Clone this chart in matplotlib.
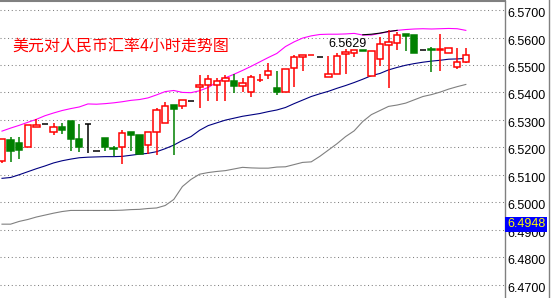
import matplotlib.pyplot as plt
import numpy as np
from matplotlib.transforms import blended_transform_factory, ScaledTranslation
from matplotlib.lines import Line2D

# 4-hour candles, USD/CNY
opens = [6.5150, 6.5226, 6.5217, 6.5200, 6.5273, 6.5284, 6.5257, 6.5273, 6.5296, 6.5229,
         6.5284, 6.5186, 6.5233, 6.5197, 6.5200, 6.5256, 6.5245, 6.5207, 6.5254, 6.5287,
         6.5353, 6.5349, 6.5368, 6.5419, 6.5427, 6.5427, 6.5442, 6.5441, 6.5423, 6.5402,
         6.5444, 6.5463, 6.5415, 6.5401, 6.5488, 6.5530, 6.5535, 6.5528, 6.5457, 6.5466,
         6.5540, 6.5542, 6.5553, 6.5461, 6.5520, 6.5573, 6.5581, 6.5613, 6.5609, 6.5553,
         6.5558, 6.5556, 6.5542, 6.5493, 6.5512]
highs = [6.5232, 6.5236, 6.5237, 6.5281, 6.5302, 6.5284, 6.5289, 6.5289, 6.5296, 6.5284,
         6.5284, 6.5186, 6.5233, 6.5206, 6.5263, 6.5256, 6.5245, 6.5254, 6.5344, 6.5365,
         6.5353, 6.5371, 6.5368, 6.5463, 6.5463, 6.5453, 6.5463, 6.5467, 6.5451, 6.5463,
         6.5466, 6.5506, 6.5479, 6.5484, 6.5536, 6.5536, 6.5536, 6.5528, 6.5532, 6.5542,
         6.5557, 6.5554, 6.5553, 6.5551, 6.5603, 6.5629, 6.5621, 6.5613, 6.5609, 6.5553,
         6.5566, 6.5613, 6.5560, 6.5560, 6.5560]
lows = [6.5143, 6.5145, 6.5157, 6.5200, 6.5273, 6.5284, 6.5245, 6.5247, 6.5187, 6.5184,
        6.5178, 6.5186, 6.5187, 6.5168, 6.5138, 6.5187, 6.5175, 6.5175, 6.5172, 6.5287,
        6.5172, 6.5340, 6.5368, 6.5345, 6.5368, 6.5368, 6.5368, 6.5399, 6.5402, 6.5384,
        6.5439, 6.5448, 6.5390, 6.5401, 6.5421, 6.5479, 6.5535, 6.5528, 6.5457, 6.5466,
        6.5466, 6.5528, 6.5552, 6.5461, 6.5496, 6.5416, 6.5554, 6.5552, 6.5542, 6.5553,
        6.5475, 6.5479, 6.5542, 6.5486, 6.5507]
closes = [6.5230, 6.5187, 6.5190, 6.5281, 6.5281, 6.5284, 6.5273, 6.5263, 6.5229, 6.5202,
          6.5284, 6.5186, 6.5200, 6.5195, 6.5251, 6.5246, 6.5175, 6.5254, 6.5336, 6.5350,
          6.5340, 6.5371, 6.5368, 6.5427, 6.5448, 6.5441, 6.5451, 6.5424, 6.5433, 6.5455,
          6.5446, 6.5478, 6.5402, 6.5484, 6.5528, 6.5536, 6.5536, 6.5528, 6.5466, 6.5532,
          6.5547, 6.5554, 6.5552, 6.5551, 6.5576, 6.5585, 6.5609, 6.5606, 6.5542, 6.5553,
          6.5556, 6.5558, 6.5560, 6.5511, 6.5536]

# Bollinger bands
band_upper = [6.5259, 6.5270, 6.5280, 6.5291, 6.5302, 6.5315, 6.5325, 6.5334, 6.5341, 6.5347,
              6.5358, 6.5357, 6.5359, 6.5362, 6.5366, 6.5371, 6.5374, 6.5380, 6.5391, 6.5403,
              6.5407, 6.5400, 6.5399, 6.5406, 6.5418, 6.5437, 6.5453, 6.5466, 6.5480, 6.5495,
              6.5511, 6.5527, 6.5542, 6.5567, 6.5584, 6.5598, 6.5606, 6.5611, 6.5612, 6.5612,
              6.5613, 6.5615, 6.5609, 6.5609, 6.5615, 6.5621, 6.5626, 6.5629, 6.5631, 6.5632,
              6.5631, 6.5632, 6.5633, 6.5632, 6.5626]
band_mid = [6.5087, 6.5090, 6.5100, 6.5111, 6.5122, 6.5132, 6.5143, 6.5151, 6.5157, 6.5162,
            6.5164, 6.5165, 6.5166, 6.5166, 6.5167, 6.5171, 6.5175, 6.5178, 6.5184, 6.5195,
            6.5208, 6.5225, 6.5239, 6.5262, 6.5279, 6.5289, 6.5299, 6.5306, 6.5313, 6.5318,
            6.5323, 6.5330, 6.5336, 6.5345, 6.5359, 6.5372, 6.5385, 6.5395, 6.5404, 6.5415,
            6.5425, 6.5436, 6.5448, 6.5461, 6.5469, 6.5482, 6.5491, 6.5499, 6.5505, 6.5510,
            6.5514, 6.5517, 6.5521, 6.5522, 6.5524]
band_lower = [6.4920, 6.4920, 6.4930, 6.4937, 6.4946, 6.4953, 6.4960, 6.4966, 6.4970, 6.4970,
              6.4970, 6.4970, 6.4970, 6.4970, 6.4971, 6.4973, 6.4974, 6.4977, 6.4979, 6.4988,
              6.5010, 6.5057, 6.5083, 6.5102, 6.5108, 6.5112, 6.5115, 6.5121, 6.5127, 6.5125,
              6.5124, 6.5124, 6.5128, 6.5129, 6.5137, 6.5145, 6.5147, 6.5167, 6.5190, 6.5213,
              6.5239, 6.5260, 6.5294, 6.5319, 6.5334, 6.5349, 6.5354, 6.5361, 6.5373, 6.5385,
              6.5392, 6.5401, 6.5412, 6.5421, 6.5429]

# short black line near the top
seg_idx = [42, 43, 44, 45, 46]
seg_val = [6.5610, 6.5612, 6.5616, 6.5622, 6.5626]

price_levels = [6.47, 6.48, 6.49, 6.50, 6.51, 6.52, 6.53, 6.54, 6.55, 6.56, 6.57]
title = '美元对人民币汇率4小时走势图'
high_label = '6.5629'
cur_price = 6.4948

o = np.array(opens); h = np.array(highs); l = np.array(lows); c = np.array(closes)
x = np.arange(len(o))
up = c > o
dn = c < o
flat = c == o

fig = plt.figure(figsize=(5.53, 2.98), dpi=100)
ax = fig.add_axes([0, 0, 505 / 553, 297 / 298])

ax.grid(axis='y', color='#808080', linestyle=(0, (1, 2.6)), linewidth=0.75)
ax.set_axisbelow(True)

ax.plot(x, band_upper, color='#FF00FF', lw=0.8, zorder=1.5)
ax.plot(x, band_mid, color='#000080', lw=0.8, zorder=1.5)
ax.plot(x, band_lower, color='#808080', lw=0.8, zorder=1.5)
ax.plot(seg_idx, seg_val, color='black', lw=0.8, zorder=1.6)

wick_col = np.where(up, '#FF0000', np.where(dn, '#008000', 'black'))
ax.vlines(x, l, h, colors=wick_col, lw=1.1, zorder=2)
w = 0.74
ax.bar(x[up], (c - o)[up], bottom=o[up], width=w, facecolor='white',
       edgecolor='#FF0000', lw=1.1, zorder=3)
ax.bar(x[dn], (o - c)[dn], bottom=c[dn], width=w, facecolor='#008000',
       edgecolor='#008000', lw=1.1, zorder=3)
ax.hlines(c[flat], x[flat] - w / 2, x[flat] + w / 2, color='black', lw=1.1, zorder=3)

ax.set_xlim(-0.233, 58.56)
ax.set_ylim(6.4651, 6.5733)
ax.set_xticks([])
ax.set_yticks(price_levels)
ax.tick_params(axis='y', length=0, labelleft=False, labelright=False)
for s in ['left', 'bottom']:
    ax.spines[s].set_visible(False)
ax.spines['top'].set_color('#808080')
ax.spines['top'].set_linewidth(1.5)
ax.spines['right'].set_color('#808080')
ax.spines['right'].set_linewidth(1.0)

lab_font = dict(fontsize=9, family='Liberation Sans')
tr = blended_transform_factory(ax.transAxes, ax.transData)
tr_lab = tr + ScaledTranslation(2 / 100, -4 / 100, fig.dpi_scale_trans)
for v in price_levels:
    ax.text(1.0, v, f'{v:.4f}', transform=tr_lab, ha='left', va='center',
            color='black', clip_on=False, **lab_font)

tr_cur = tr + ScaledTranslation(2 / 100, -8 / 100, fig.dpi_scale_trans)
ax.text(1.0, cur_price, f'{cur_price:.4f}', transform=tr_cur, ha='left', va='center',
        color='#FFFF00', clip_on=False, zorder=10,
        bbox=dict(boxstyle='square,pad=0.15', fc='#0000FF', ec='none'), **lab_font)

ax.text(37.95, 6.5576, high_label, ha='left', va='center', color='black', **lab_font)

fig.text(12 / 553, 1 - 47 / 298, title, color='#FF0000', fontsize=11.5,
         family=['Noto Sans CJK SC', 'DejaVu Sans'], va='center', ha='left')

fig.add_artist(Line2D([549 / 553, 549 / 553], [0, 1], color='#808080', lw=1.0))

fig.savefig('out.png', dpi=100)
